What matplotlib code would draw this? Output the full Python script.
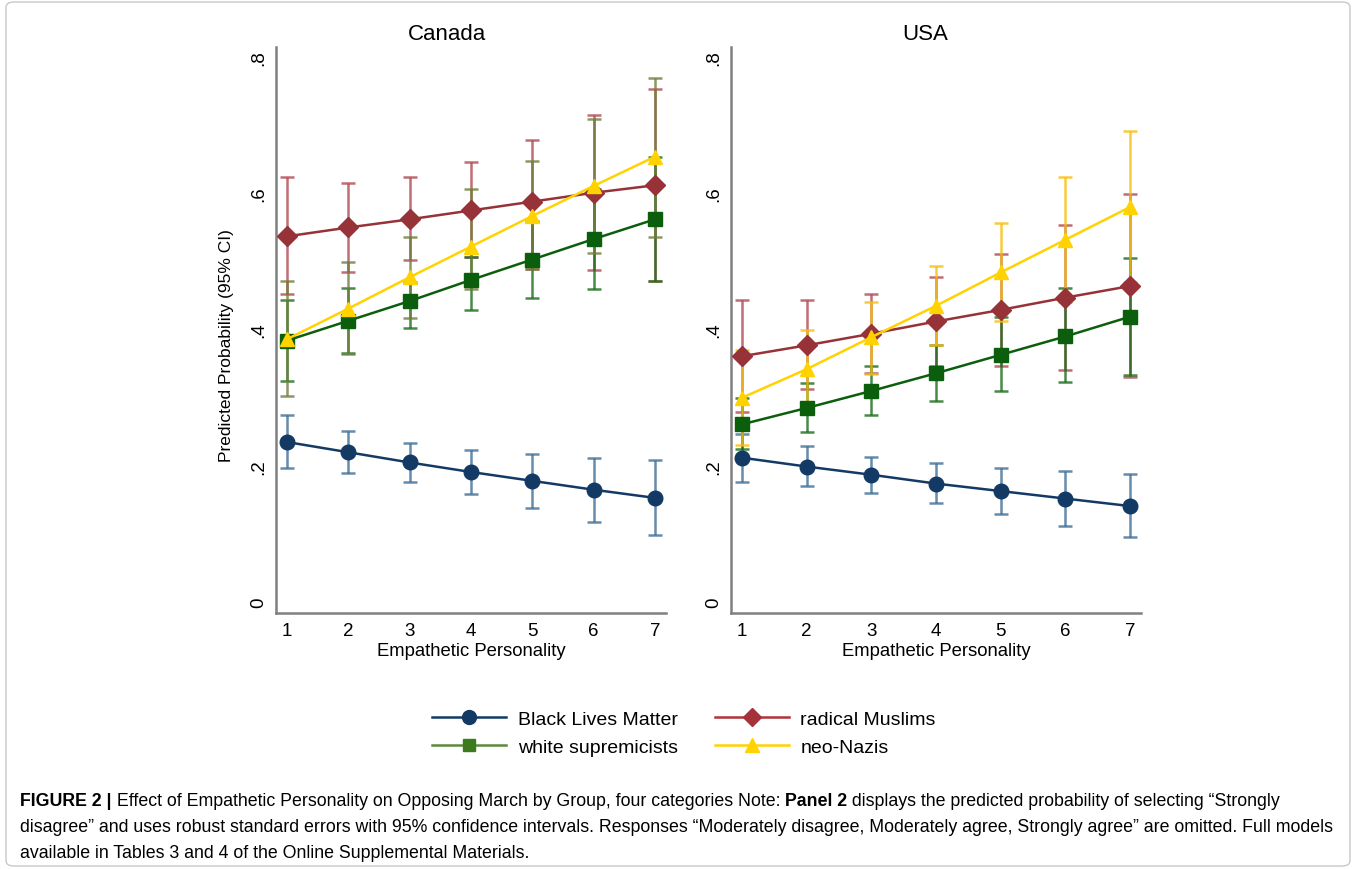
import matplotlib
matplotlib.use("Agg")
import matplotlib.pyplot as plt
from matplotlib.patches import FancyBboxPatch
from matplotlib.lines import Line2D
import numpy as np

x = [1, 2, 3, 4, 5, 6, 7]
xticks = [1, 2, 3, 4, 5, 6, 7]
yticks = [0, 0.2, 0.4, 0.6, 0.8]
yticklabels = ["0", ".2", ".4", ".6", ".8"]
groups = ["Black Lives Matter", "radical Muslims", "white supremicists", "neo-Nazis"]

# Canada
ca_blm = [0.235, 0.220, 0.205, 0.191, 0.178, 0.165, 0.153]
ca_blm_lo = [0.197, 0.190, 0.177, 0.158, 0.138, 0.118, 0.098]
ca_blm_hi = [0.275, 0.251, 0.233, 0.224, 0.218, 0.212, 0.208]
ca_mus = [0.537, 0.550, 0.562, 0.575, 0.588, 0.601, 0.612]
ca_mus_lo = [0.452, 0.484, 0.503, 0.506, 0.489, 0.487, 0.471]
ca_mus_hi = [0.624, 0.616, 0.624, 0.646, 0.678, 0.715, 0.753]
ca_ws = [0.384, 0.413, 0.442, 0.473, 0.503, 0.533, 0.562]
ca_ws_lo = [0.325, 0.366, 0.403, 0.429, 0.446, 0.459, 0.471]
ca_ws_hi = [0.443, 0.461, 0.470, 0.507, 0.560, 0.607, 0.653]
ca_nn = [0.386, 0.431, 0.477, 0.522, 0.567, 0.611, 0.654]
ca_nn_lo = [0.302, 0.364, 0.417, 0.459, 0.489, 0.512, 0.536]
ca_nn_hi = [0.471, 0.500, 0.536, 0.606, 0.647, 0.709, 0.770]

# USA
us_blm = [0.212, 0.199, 0.187, 0.174, 0.163, 0.152, 0.141]
us_blm_lo = [0.177, 0.170, 0.160, 0.145, 0.129, 0.112, 0.096]
us_blm_hi = [0.247, 0.229, 0.213, 0.204, 0.197, 0.192, 0.188]
us_mus = [0.361, 0.377, 0.394, 0.412, 0.429, 0.447, 0.464]
us_mus_lo = [0.279, 0.313, 0.337, 0.347, 0.347, 0.341, 0.331]
us_mus_hi = [0.443, 0.443, 0.452, 0.477, 0.511, 0.554, 0.599]
us_ws = [0.261, 0.285, 0.310, 0.336, 0.363, 0.390, 0.419]
us_ws_lo = [0.225, 0.250, 0.275, 0.295, 0.310, 0.323, 0.333]
us_ws_hi = [0.300, 0.322, 0.346, 0.378, 0.418, 0.461, 0.505]
us_nn = [0.300, 0.342, 0.389, 0.435, 0.484, 0.532, 0.580]
us_nn_lo = [0.230, 0.287, 0.335, 0.377, 0.412, 0.440, 0.470]
us_nn_hi = [0.370, 0.400, 0.441, 0.493, 0.556, 0.624, 0.691]

colors = {"blm": "#133a64", "mus": "#963238", "ws": "#0b5e0b", "nn": "#ffd200"}
ci_colors_ca = {"blm": "#3f6f98", "mus": "#b04a52", "ws": "#1a6e1a", "nn": "#6f7f3c"}
ci_colors_us = {"blm": "#3f6f98", "mus": "#b04a52", "ws": "#1a6e1a", "nn": "#f5bf10"}
markers = {"blm": "o", "mus": "D", "ws": "s", "nn": "^"}
msizes = {"blm": 10.5, "mus": 10.5, "ws": 10, "nn": 10.5}

plt.rcParams['font.family'] = ['Liberation Sans', 'DejaVu Sans']

W, H = 1356, 870
fig = plt.figure(figsize=(W / 100, H / 100), dpi=100)

def px_axes(left, right, top, bottom):
    return fig.add_axes([left / W, 1 - bottom / H, (right - left) / W, (bottom - top) / H])

ax1 = px_axes(276, 666, 48, 614)
ax2 = px_axes(731, 1141, 48, 614)

panels = [
    (ax1, "Canada", 0.438, ci_colors_ca,
     [(ca_blm, ca_blm_lo, ca_blm_hi, "blm"), (ca_mus, ca_mus_lo, ca_mus_hi, "mus"),
      (ca_ws, ca_ws_lo, ca_ws_hi, "ws"), (ca_nn, ca_nn_lo, ca_nn_hi, "nn")], (0.82, 7.18)),
    (ax2, "USA", 0.473, ci_colors_us,
     [(us_blm, us_blm_lo, us_blm_hi, "blm"), (us_mus, us_mus_lo, us_mus_hi, "mus"),
      (us_ws, us_ws_lo, us_ws_hi, "ws"), (us_nn, us_nn_lo, us_nn_hi, "nn")], (0.83, 7.17)),
]

for ax, title, tx, cic, series, xl in panels:
    for vals, lo, hi, key in series:
        v = np.array(vals); l = np.array(lo); h = np.array(hi)
        ax.errorbar(x, v, yerr=[v - l, h - v], fmt='none', ecolor=cic[key],
                    elinewidth=1.8, capsize=5, capthick=1.8, alpha=0.8, zorder=2)
    for vals, lo, hi, key in series:
        ax.plot(x, vals, color=colors[key], lw=1.8, marker=markers[key],
                markersize=msizes[key], markerfacecolor=colors[key],
                markeredgecolor=colors[key], zorder=3)
    ax.set_xlim(*xl)
    ax.set_ylim(-0.016, 0.815)
    ax.set_xticks(xticks)
    ax.set_xticklabels([str(t) for t in xticks], fontsize=13.5)
    ax.set_yticks(yticks)
    ax.set_yticklabels(yticklabels, fontsize=13.5, rotation=90, va='center')
    for s in ['top', 'right']:
        ax.spines[s].set_visible(False)
    for s in ['left', 'bottom']:
        ax.spines[s].set_color('#808080')
        ax.spines[s].set_linewidth(1.8)
    ax.tick_params(axis='y', length=0, pad=6.5)
    ax.tick_params(axis='x', length=0, pad=6.5)
    ax.set_title(title, fontsize=16, pad=6, x=tx)
    ax.set_xlabel("Empathetic Personality", fontsize=13.3, labelpad=2.5)

ax1.set_ylabel("Predicted Probability (95% CI)", fontsize=12.5)
ax1.yaxis.set_label_coords(-0.108, 0.475)

# Legend
handles = [
    Line2D([], [], color=colors["blm"], marker="o", markersize=10, lw=1.8),
    Line2D([], [], color="#5b8a3c", marker="s", markersize=9, markerfacecolor="#3d7a1e", markeredgecolor="#3d7a1e", lw=1.8),
    Line2D([], [], color="#b0343c", marker="D", markersize=9.5, markerfacecolor="#a5313a", markeredgecolor="#a5313a", lw=1.8),
    Line2D([], [], color=colors["nn"], marker="^", markersize=10, lw=1.8),
]
labels = [groups[0], groups[2], groups[1], groups[3]]
fig.legend(handles, labels, loc='center', bbox_to_anchor=(684 / W, 1 - 734 / H), ncol=2,
           frameon=False, fontsize=14, handlelength=3.8, columnspacing=1.9,
           labelspacing=0.55, handletextpad=0.6)

# Border
fig.patches.append(FancyBboxPatch((6 / W, 3 / H), (W - 12) / W, (H - 6) / H,
                                  boxstyle="round,pad=0,rounding_size=0.006",
                                  transform=fig.transFigure, fill=False,
                                  edgecolor='#c8c8c8', lw=1.0))

# Caption
cap_font = ['Liberation Sans', 'DejaVu Sans']
fs = 12.75
def chain(parts, x0, y0):
    t = fig.text(x0 / W, 1 - y0 / H, parts[0][0], fontsize=fs, family=cap_font,
                 fontweight=parts[0][1], va='baseline', ha='left')
    prev = t
    for s, w in parts[1:]:
        prev = ax1.annotate(s, xy=(1, 0), xycoords=prev, va='bottom', ha='left',
                            fontsize=fs, family=cap_font, fontweight=w,
                            annotation_clip=False)
    return t

chain([("FIGURE 2 |", 'bold'),
       (" Effect of Empathetic Personality on Opposing March by Group, four categories Note: ", 'normal'),
       ("Panel 2", 'bold'),
       (" displays the predicted probability of selecting \u201cStrongly", 'normal')], 20, 806)
fig.text(20 / W, 1 - 832 / H,
         "disagree\u201d and uses robust standard errors with 95% confidence intervals. Responses \u201cModerately disagree, Moderately agree, Strongly agree\u201d are omitted. Full models",
         fontsize=fs, family=cap_font, va='baseline', ha='left')
fig.text(20 / W, 1 - 858 / H,
         "available in Tables 3 and 4 of the Online Supplemental Materials.",
         fontsize=fs, family=cap_font, va='baseline', ha='left')

fig.savefig("out.png", dpi=100)
